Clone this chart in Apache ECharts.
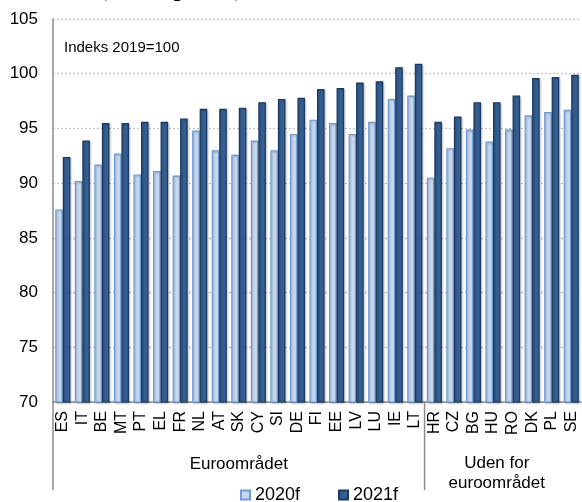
<!DOCTYPE html>
<html>
<head>
<meta charset="utf-8">
<script src="https://cdn.jsdelivr.net/npm/echarts@6/dist/echarts.min.js"></script>
<style>
  html, body { margin: 0; padding: 0; background: #fff; }
  #chart { width: 582px; height: 502px; }
</style>
</head>
<body>
<div id="chart"></div>
<script>
var countries = ['ES', 'IT', 'BE', 'MT', 'PT', 'EL', 'FR', 'NL', 'AT', 'SK', 'CY', 'SI', 'DE', 'FI', 'EE', 'LV', 'LU', 'IE', 'LT',
                 'HR', 'CZ', 'BG', 'HU', 'RO', 'DK', 'PL', 'SE'];
var values2020 = [87.6, 90.2, 91.7, 92.7, 90.8, 91.1, 90.7, 94.8, 93.0, 92.6, 93.9, 93.0, 94.5, 95.8, 95.5, 94.5, 95.6, 97.7, 98.0,
                  90.5, 93.2, 94.9, 93.8, 94.9, 96.2, 96.5, 96.7];
var values2021 = [92.4, 93.9, 95.5, 95.5, 95.6, 95.6, 95.9, 96.8, 96.8, 96.9, 97.4, 97.7, 97.8, 98.6, 98.7, 99.2, 99.3, 100.6, 100.9,
                  95.6, 96.1, 97.4, 97.4, 98.0, 99.6, 99.7, 99.9];
var euroCount = 19; // first 19 countries are in the euro area
var groupNames = ['Euroområdet', 'Uden for\neuroområdet'];

var chart = echarts.init(document.getElementById('chart'));
var font = 'Liberation Sans, Arial, sans-serif';

chart.setOption({
  animation: false,
  title: {
    text: 'Indeks 2019=100',
    left: 59, top: 35,
    textStyle: { fontFamily: font, fontWeight: 'normal', fontSize: 15, color: '#000' }
  },
  legend: {
    top: 481, left: 235,
    itemWidth: 9, itemHeight: 9, itemGap: 38,
    icon: 'rect',
    textStyle: { fontFamily: font, fontSize: 18, color: '#000' },
    data: ['2020f', '2021f']
  },
  grid: { left: 53, right: 1, top: 19, bottom: 100 },
  xAxis: {
    type: 'category',
    data: countries,
    axisLine: { lineStyle: { color: '#8c8c8c', width: 1.5 } },
    axisTick: { show: false },
    axisLabel: { interval: 0, rotate: 90, fontFamily: font, fontSize: 16, color: '#000', margin: 9 }
  },
  yAxis: {
    type: 'value',
    min: 70, max: 105, interval: 5,
    axisLine: { show: true, lineStyle: { color: '#8c8c8c', width: 1.5 } },
    axisTick: { show: false },
    splitLine: { lineStyle: { color: '#c4c4c4', type: [2, 2], width: 1.3 } },
    axisLabel: { fontFamily: font, fontSize: 17, color: '#000', margin: 15 }
  },
  series: [
    {
      name: '2020f', type: 'bar', data: values2020,
      barGap: '0%', barCategoryGap: '23%',
      itemStyle: { color: '#c6d8f0', borderColor: '#6c9bd6', borderWidth: 1.2,
                   shadowColor: 'rgba(0,0,0,0.25)', shadowBlur: 2, shadowOffsetX: 1, shadowOffsetY: 1 }
    },
    {
      name: '2021f', type: 'bar', data: values2021,
      itemStyle: { color: '#345f93', borderColor: '#1c3961', borderWidth: 1.2,
                   shadowColor: 'rgba(0,0,0,0.25)', shadowBlur: 2, shadowOffsetX: 1, shadowOffsetY: 1 }
    }
  ]
});

// group separators and labels, placed from the axis scale
var p0 = chart.convertToPixel({ xAxisIndex: 0 }, 0);
var p1 = chart.convertToPixel({ xAxisIndex: 0 }, 1);
var step = p1 - p0;
var leftEdge = p0 - step / 2;
var divider = leftEdge + euroCount * step;
var rightEdge = leftEdge + countries.length * step;
var baseY = chart.convertToPixel({ yAxisIndex: 0 }, 70);

chart.setOption({
  graphic: [
    // headline of the original figure, mostly cut off at the top edge
    { type: 'text', x: 99, y: 2,
      style: { text: '(i faste priser)', fontFamily: 'Liberation Serif, Times New Roman, serif', fontWeight: 'bold',
               fontSize: 24, fill: '#000', align: 'left', verticalAlign: 'bottom' } },
    { type: 'line', shape: { x1: leftEdge, y1: baseY, x2: leftEdge, y2: baseY + 88 },
      style: { stroke: '#8c8c8c', lineWidth: 1.5 } },
    { type: 'line', shape: { x1: divider, y1: baseY, x2: divider, y2: baseY + 88 },
      style: { stroke: '#8c8c8c', lineWidth: 1.5 } },
    { type: 'text', x: (leftEdge + divider) / 2, y: baseY + 62,
      style: { text: groupNames[0], fontFamily: font, fontSize: 17, fill: '#000', align: 'center', verticalAlign: 'middle' } },
    { type: 'text', x: (divider + rightEdge) / 2 - 6, y: baseY + 71,
      style: { text: groupNames[1], fontFamily: font, fontSize: 17, lineHeight: 20, fill: '#000', align: 'center', verticalAlign: 'middle' } }
  ]
});
</script>
</body>
</html>
